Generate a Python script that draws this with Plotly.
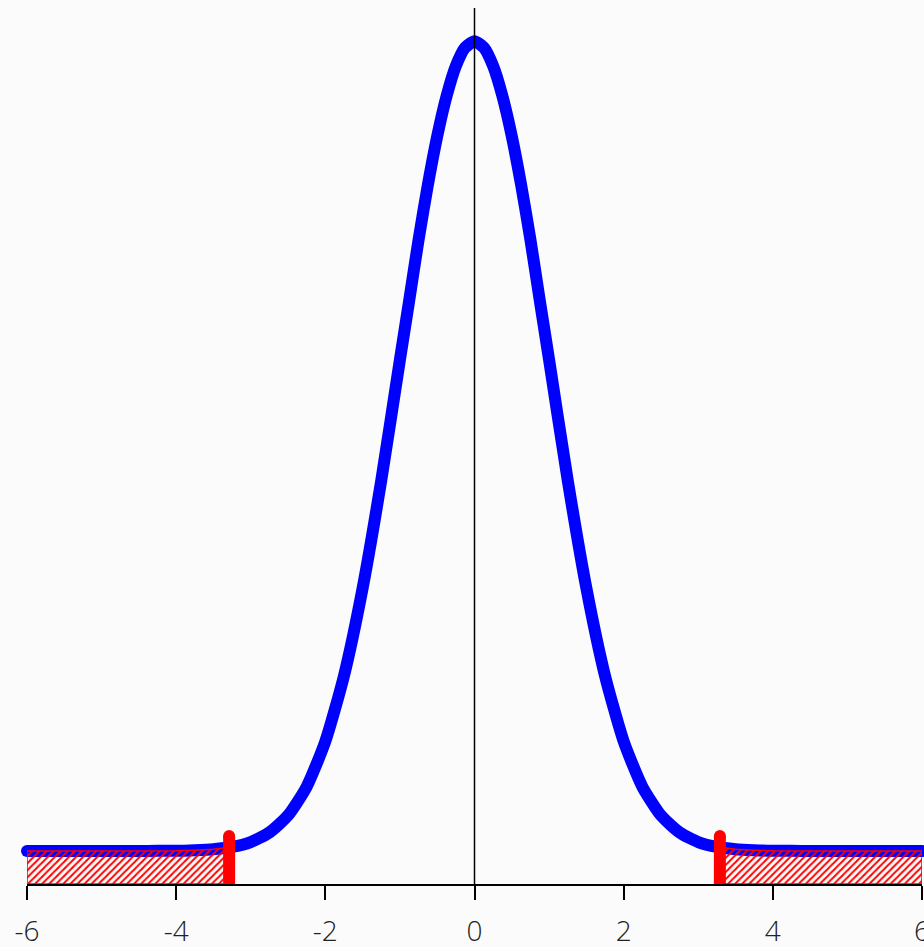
import plotly.graph_objects as go

# Curve values (standard normal shape)
curve_x = [-6.0, -5.5, -5.0, -4.5, -4.25, -4.0, -3.75, -3.5, -3.25, -3.0, -2.75, -2.5, -2.25,
           -2.0, -1.75, -1.5, -1.25, -1.0, -0.875, -0.75, -0.625, -0.5, -0.375, -0.25, -0.125, 0.0,
           0.125, 0.25, 0.375, 0.5, 0.625, 0.75, 0.875, 1.0, 1.25, 1.5, 1.75, 2.0, 2.25, 2.5, 2.75, 3.0,
           3.25, 3.5, 3.75, 4.0, 4.25, 4.5, 5.0, 5.5, 6.0]
curve_y = [0.0, 0.0, 0.0, 0.0, 0.0001, 0.0001, 0.0004, 0.0009, 0.0020, 0.0044, 0.0091, 0.0175, 0.0317,
           0.0540, 0.0863, 0.1295, 0.1826, 0.2420, 0.2713, 0.3011, 0.3282, 0.3521, 0.3718, 0.3867, 0.3958, 0.3989,
           0.3958, 0.3867, 0.3718, 0.3521, 0.3282, 0.3011, 0.2713, 0.2420, 0.1826, 0.1295, 0.0863, 0.0540, 0.0317, 0.0175, 0.0091, 0.0044,
           0.0020, 0.0009, 0.0004, 0.0001, 0.0001, 0.0, 0.0, 0.0, 0.0]

# Rejection regions (tails)
left_tail_x = [-6.0, -5.0, -4.0, -3.75, -3.5, -3.29]
left_tail_y = [0.0, 0.0, 0.0001, 0.0004, 0.0009, 0.0018]
right_tail_x = [3.29, 3.5, 3.75, 4.0, 5.0, 6.0]
right_tail_y = [0.0018, 0.0009, 0.0004, 0.0001, 0.0, 0.0]

critical_values = [-3.29, 3.29]
critical_top = 0.0074

x_ticks = [-6, -4, -2, 0, 2, 4, 6]
x_tick_labels = ["-6", "-4", "-2", "0", "2", "4", "6"]

y_min, y_max = -0.01625, 0.4153

fig = go.Figure()

# blue density curve
fig.add_trace(go.Scatter(
    x=curve_x, y=curve_y, mode="lines", line=dict(color="#0000ff", width=12, shape="spline", smoothing=0.6),
    hoverinfo="skip", showlegend=False))
# round caps at ends
fig.add_trace(go.Scatter(
    x=[curve_x[0], curve_x[-1]], y=[curve_y[0], curve_y[-1]], mode="markers",
    marker=dict(color="#0000ff", size=12), cliponaxis=False, hoverinfo="skip", showlegend=False))

# hatched tails
for tx, ty in [(left_tail_x, left_tail_y), (right_tail_x, right_tail_y)]:
    px = tx + [tx[-1], tx[0], tx[0]]
    py = ty + [y_min, y_min, ty[0]]
    fig.add_trace(go.Scatter(
        x=px, y=py, mode="lines", fill="toself",
        line=dict(color="#ff0000", width=1.5),
        fillcolor="rgba(0,0,0,0)",
        fillpattern=dict(shape="/", fgcolor="#ff0000", bgcolor="rgba(0,0,0,0)", size=5, solidity=0.4),
        hoverinfo="skip", showlegend=False))

# red critical lines
for cv in critical_values:
    fig.add_trace(go.Scatter(
        x=[cv, cv], y=[y_min - 0.01, critical_top], mode="lines",
        line=dict(color="#ff0000", width=12), hoverinfo="skip", showlegend=False))
    fig.add_trace(go.Scatter(
        x=[cv], y=[critical_top], mode="markers", marker=dict(color="#ff0000", size=12),
        cliponaxis=False, hoverinfo="skip", showlegend=False))

fig.add_shape(type="line", x0=0, x1=0, y0=y_min, y1=y_max, xref="x", yref="y",
              line=dict(color="black", width=1.5), layer="above")

fig.update_layout(
    width=924, height=947,
    margin=dict(l=27, r=2, t=8, b=63, autoexpand=False),
    paper_bgcolor="#fbfbfb", plot_bgcolor="#fbfbfb",
    template="none",
    showlegend=False,
    xaxis=dict(range=[-6, 6], tickvals=x_ticks, ticktext=x_tick_labels,
               showline=True, linecolor="black", linewidth=1.5,
               ticks="outside", ticklen=14, tickwidth=1.5, tickcolor="black",
               ticklabelstandoff=8, ticklabeloverflow="allow",
               tickfont=dict(family="Open Sans, Liberation Sans, sans-serif", size=28, color="#222222", weight=300),
               showgrid=False, zeroline=False, automargin=False, fixedrange=True),
    yaxis=dict(range=[y_min, y_max], visible=False, showgrid=False, zeroline=False, fixedrange=True),
)

fig.write_html(
    "out.html",
    config={"displayModeBar": False},
    post_script="document.body.style.margin='0';document.documentElement.style.overflow='hidden';document.body.style.overflow='hidden';",
)
